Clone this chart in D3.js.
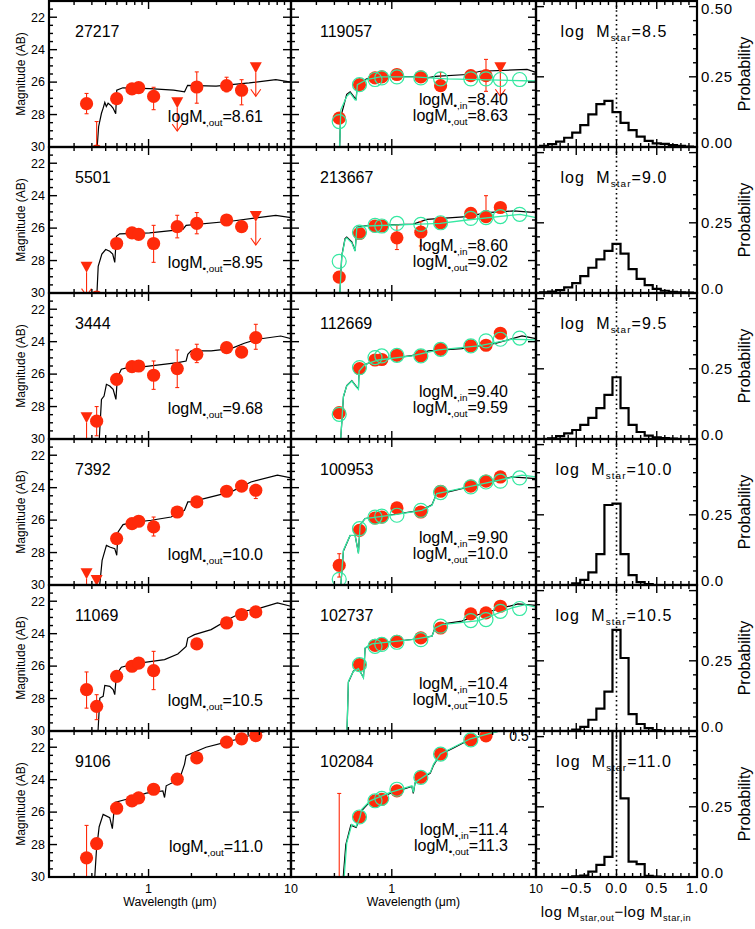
<!DOCTYPE html>
<html><head><meta charset="utf-8">
<script src="https://cdn.jsdelivr.net/npm/d3@7"></script>
<style>
body{margin:0;background:#fff}
svg{display:block}
text{font-family:"Liberation Sans",Arial,sans-serif;fill:#000;white-space:pre}
</style>
</head><body>
<svg id="c" width="755" height="929"></svg>
<script>
// ---------------- DATA ----------------
const filterWave = [0.367,0.432,0.597,0.765,0.852,1.085,1.59,2.18,3.53,4.5,5.66,7.7];
const leftIds = ["27217","5501","3444","7392","11069","9106"];
const midIds = ["119057","213667","112669","100953","102737","102084"];
const massOutLeft = ["8.61","8.95","9.68","10.0","10.5","11.0"];
const massInMid = ["8.40","8.60","9.40","9.90","10.4","11.4"];
const massOutMid = ["8.63","9.02","9.59","10.0","10.5","11.3"];
const binMass = ["8.5","9.0","9.5","10.0","10.5","11.0"];

// observed photometry (left column), null = no measurement
const leftMag = [
  [27.33,30.25,27.02,26.42,26.34,26.88,27.27,26.30,26.22,26.50,25.12,null],
  [28.41,30.25,26.95,26.29,26.39,26.95,25.91,25.71,25.50,25.91,25.29,null],
  [28.69,28.90,26.32,25.54,25.50,26.07,25.66,24.78,24.37,24.64,23.75,null],
  [29.30,29.72,27.14,26.22,26.07,26.42,25.50,24.88,24.22,23.90,24.16,null],
  [27.45,28.48,26.63,26.01,25.81,26.28,null,24.63,23.34,22.82,22.66,null],
  [28.82,27.94,25.76,25.31,25.12,24.59,23.97,22.66,21.69,21.48,21.28,null]
];
const leftUpper = [[6,10],[0,10],[0],[0,1],[],[]];
// error bars: [filter index, bright end, faint end]
const leftErr = [
  [[0,26.7,27.95],[1,28.43,31],[2,26.85,27.2],[5,26.32,27.7],[7,25.37,27.3],[8,25.7,26.6],[9,25.85,27.4]],
  [[2,26.8,27.1],[5,25.83,28.11],[6,25.21,26.6],[7,25.04,26.35]],
  [[1,28.0,29.8],[5,25.19,26.94],[6,24.51,26.83],[7,24.16,25.29],[10,22.93,24.47]],
  [[5,25.81,26.98],[6,25.3,25.7],[10,23.8,24.67]],
  [[0,26.36,28.59],[1,27.76,29.3],[5,25.09,27.45]],
  [[0,26.82,31]]
];
// simulated photometry (middle column, red)
const midMag = [
  [null,28.22,26.16,25.74,25.68,25.53,25.68,26.22,25.60,25.60,25.12,null],
  [null,29.02,26.33,25.87,25.87,26.60,26.25,25.67,25.09,25.29,24.73,null],
  [null,28.38,25.66,25.13,25.10,24.84,24.88,24.47,24.26,24.22,23.48,null],
  [null,28.79,26.63,25.87,25.81,25.25,25.50,24.22,23.90,23.60,23.34,null],
  [null,null,25.91,24.72,24.63,24.47,24.26,23.65,22.78,22.72,22.31,null],
  [null,33.0,26.30,25.31,25.21,24.69,23.86,22.42,21.55,21.30,null,null]
];
const midUpper = [[10],[],[],[],[],[]];
const midErr = [
  [[7,25.4,26.4],[9,24.6,26.57]],
  [[5,25.83,27.32],[6,25.6,27.1],[9,24.0,25.46]],
  [],
  [[1,28.07,29.51]],
  [],
  [[1,24.85,33]]
];
// input model photometry (middle column, green open circles)
const midModel = [
  [null,28.43,26.16,25.84,25.74,25.68,25.74,25.80,25.80,25.80,25.84,25.84],
  [null,28.05,26.25,25.83,25.87,25.71,25.77,25.67,25.40,25.35,25.29,25.15],
  [null,28.48,25.60,24.98,24.88,24.84,24.88,24.47,24.26,23.95,23.85,23.78],
  [null,29.65,26.53,25.81,25.75,25.70,25.40,24.30,23.95,23.65,23.60,23.40],
  [null,null,25.91,24.78,24.66,24.53,24.37,23.54,23.19,23.13,22.62,22.45],
  [null,null,26.30,25.30,25.15,24.59,23.86,22.42,21.55,null,null,null]
];
// best-fit spectra, left column [wavelength um, mag]
const leftSpec = [
  [[0.431,30.6],[0.446,28.75],[0.467,27.92],[0.48,27.6],[0.493,27.25],[0.505,27.5],[0.52,27.3],[0.545,27.45],[0.563,27.6],[0.588,27.95],[0.598,26.5],[0.66,26.35],[1.017,26.4],[1.5,26.5],[1.79,26.6],[1.88,26.2],[2.98,26.25],[5.09,26.05],[7.82,25.85],[10,26.0]],
  [[0.431,30.6],[0.443,28.36],[0.47,27.6],[0.50,27.32],[0.534,27.43],[0.56,27.6],[0.579,28.11],[0.595,26.5],[0.627,26.35],[1.017,26.29],[1.74,26.08],[1.835,25.83],[3.89,25.56],[7.82,25.21],[10,25.35]],
  [[0.447,30.6],[0.467,27.56],[0.487,27.35],[0.506,26.63],[0.534,26.73],[0.564,26.94],[0.59,27.56],[0.604,26.22],[0.644,25.7],[0.757,25.54],[0.938,25.54],[1.605,25.29],[1.835,25.19],[1.886,24.78],[1.99,24.57],[2.75,24.57],[3.79,24.43],[4.70,24.1],[5.82,23.85],[8.47,23.65],[10,23.81]],
  [[0.447,30.6],[0.472,28.48],[0.506,27.56],[0.534,27.66],[0.579,27.76],[0.598,28.17],[0.611,26.73],[0.662,26.28],[0.757,26.16],[1.045,26.01],[1.44,25.81],[1.786,25.4],[1.886,24.88],[1.99,24.88],[2.75,24.57],[3.79,24.26],[5.23,23.65],[8.03,23.23],[10,23.4]],
  [[0.438,30.6],[0.455,27.97],[0.48,27.86],[0.493,27.19],[0.534,27.25],[0.564,27.45],[0.579,27.76],[0.595,26.52],[0.644,26.07],[0.757,25.91],[0.938,25.77],[1.295,25.6],[1.605,25.25],[1.835,24.78],[1.886,24.27],[2.10,24.06],[2.75,23.75],[3.79,23.03],[4.70,22.62],[6.14,22.41],[8.03,22.1],[10,22.31]],
  [[0.415,30.6],[0.431,28.31],[0.45,26.9],[0.48,26.14],[0.534,26.34],[0.557,27.02],[0.579,25.41],[0.778,25.1],[0.964,24.83],[1.26,24.69],[1.295,25.1],[1.33,24.38],[1.65,23.97],[1.79,23.04],[1.835,22.52],[2.53,22.0],[3.5,21.69],[4.33,21.48],[6.0,21.1],[10,20.7]]
];
// input spectra, middle column (green)
const midInSpec = [
  [[0.433,30.6],[0.443,27.71],[0.487,26.88],[0.514,26.67],[0.557,27.09],[0.566,27.1],[0.577,26.16],[0.671,25.84],[0.83,25.68],[1.41,25.68],[2.41,25.8],[9.64,25.93],[10,25.93]],
  [[0.433,30.6],[0.45,27.74],[0.474,26.7],[0.487,26.6],[0.528,26.91],[0.557,27.43],[0.572,25.98],[0.671,25.87],[1.41,25.77],[2.17,25.71],[3.32,25.5],[7.78,25.15],[10,25.35]],
  [[0.438,30.6],[0.462,27.35],[0.487,26.73],[0.528,26.43],[0.572,26.83],[0.587,26.94],[0.593,25.81],[0.653,25.4],[0.808,25.13],[1.377,24.88],[2.11,24.51],[4.0,24.26],[6.82,23.85],[10,23.89]],
  [[0.438,30.6],[0.462,27.86],[0.514,26.94],[0.557,26.94],[0.587,28.07],[0.603,26.32],[0.653,25.91],[1.055,25.66],[1.616,25.4],[1.90,25.09],[2.05,24.36],[2.35,24.26],[4.0,23.81],[8.0,23.23],[10,23.34]],
  [[0.487,30.6],[0.50,26.94],[0.542,26.32],[0.587,26.16],[0.636,26.73],[0.653,24.88],[0.727,24.63],[1.377,24.37],[1.90,24.16],[2.0,23.65],[2.23,23.44],[4.0,23.19],[6.82,22.41],[8.43,22.21],[10,22.37]],
  [[0.462,30.6],[0.487,27.89],[0.528,26.76],[0.566,26.9],[0.60,26.34],[0.619,25.83],[0.707,25.31],[0.974,24.79],[1.377,24.38],[1.41,24.79],[1.45,24.17],[1.85,23.55],[1.95,23.04],[2.17,22.42],[2.68,22.0],[3.5,21.48],[5.0,21.1],[10,20.5]]
];
// best-fit spectra, middle column (black)
const midFitSpec = [
  [[0.433,30.6],[0.441,28.2],[0.487,26.75],[0.514,26.6],[0.557,27.0],[0.566,27.05],[0.577,26.1],[0.671,25.8],[0.83,25.66],[1.41,25.66],[1.8,25.72],[2.0,25.65],[3.32,25.53],[4.1,25.33],[8.67,25.22],[10,25.4]],
  [[0.433,30.6],[0.45,27.7],[0.474,26.65],[0.487,26.55],[0.528,26.85],[0.557,27.4],[0.572,25.95],[0.671,25.85],[1.41,25.75],[1.75,25.46],[3.32,25.29],[4.57,25.04],[7.0,24.94],[10,25.04]],
  [[0.438,30.6],[0.462,27.4],[0.487,26.7],[0.528,26.4],[0.572,26.8],[0.587,26.9],[0.593,25.8],[0.653,25.4],[0.808,25.12],[1.377,24.86],[1.8,24.57],[3.06,24.43],[5.22,24.1],[8.0,23.65],[10,23.81]],
  [[0.438,30.6],[0.462,27.9],[0.514,26.95],[0.557,26.95],[0.587,28.0],[0.603,26.3],[0.653,25.9],[1.055,25.64],[1.616,25.38],[1.90,25.05],[2.05,24.35],[2.35,24.3],[3.06,24.06],[6.82,23.34],[10,23.44]],
  [[0.487,30.6],[0.50,27.0],[0.542,26.3],[0.587,26.15],[0.636,26.7],[0.653,24.9],[0.727,24.62],[1.377,24.36],[1.90,24.15],[2.0,23.6],[2.11,23.44],[3.06,23.23],[4.0,22.82],[7.5,22.16],[10,22.25]],
  [[0.455,30.6],[0.48,28.0],[0.52,26.8],[0.566,26.95],[0.60,26.4],[0.619,25.9],[0.707,25.35],[0.974,24.85],[1.377,24.42],[1.41,24.85],[1.45,24.2],[1.85,23.6],[1.95,23.1],[2.17,22.45],[2.68,22.05],[3.5,21.5],[5.0,21.1],[10,20.5]]
];
// histograms of log Mout - log Min
const histCenters = [-0.9,-0.8,-0.7,-0.6,-0.5,-0.4,-0.3,-0.2,-0.1,0.0,0.1,0.2,0.3,0.4,0.5,0.6,0.7,0.8,0.9];
const histProb = [
  [0.004,0.01,0.019,0.033,0.051,0.078,0.116,0.153,0.164,0.124,0.086,0.06,0.037,0.022,0.013,0.011,0.007,0.004,0.001],
  [0.002,0.005,0.01,0.02,0.035,0.06,0.09,0.12,0.15,0.175,0.14,0.085,0.05,0.028,0.015,0.008,0.004,0.002,0.001],
  [0,0.002,0.01,0.02,0.032,0.05,0.075,0.11,0.157,0.22,0.11,0.05,0.025,0.012,0.006,0.003,0.001,0,0],
  [0,0,0,0,0.006,0.018,0.045,0.11,0.285,0.29,0.11,0.035,0.01,0.003,0,0,0,0,0],
  [0,0,0,0,0.005,0.015,0.04,0.08,0.14,0.36,0.26,0.06,0.025,0.01,0.003,0,0,0,0],
  [0,0,0,0,0.002,0.005,0.019,0.043,0.072,0.6,0.28,0.055,0.046,0.004,0.001,0,0,0,0]
];
const magTicks = [22,24,26,28,30];
const waveTickLabels = [1,10];
const diffTickLabels = [-0.5,0.0,0.5,1.0];

// ---------------- DRAWING ----------------
const RED = "#ff2a0a", GREEN = "#35e8a2";
const svg = d3.select("#c");
const defs = svg.append("defs");
const H = 146, T0 = 1;
const colL = [49,291], colM = [291,536], colR = [536,697];
const xL = d3.scaleLog().domain([0.2,10]).range(colL);
const xM = d3.scaleLog().domain([0.2,10]).range(colM);
const xR = d3.scaleLinear().domain([-1,1]).range(colR);

function rich(g, x, y, parts, size, anchor, extra){
  const t = g.append("text").attr("x",x).attr("y",y).attr("font-size",size).attr("text-anchor",anchor||"start");
  if (extra) extra(t);
  let sub = false;
  parts.forEach(p=>{
    const s = t.append("tspan").text(p[0]);
    if (p[1] && !sub){ s.attr("font-size", size*0.62).attr("dy", size*0.28); sub = true; }
    else if (!p[1] && sub){ s.attr("dy", -size*0.28); sub = false; }
  });
  return t;
}

function clip(id, x0, x1, y0, y1){
  defs.append("clipPath").attr("id",id).append("rect")
    .attr("x",x0).attr("y",y0).attr("width",x1-x0).attr("height",y1-y0);
  return "url(#"+id+")";
}

function drawPoints(g, x, y, mags, upper, errs){
  errs.forEach(e=>{
    const cx = x(filterWave[e[0]]);
    g.append("line").attr("x1",cx).attr("x2",cx).attr("y1",y(e[1])).attr("y2",y(e[2]))
      .attr("stroke",RED).attr("stroke-width",1.1);
    g.append("line").attr("x1",cx-2).attr("x2",cx+2).attr("y1",y(e[1])).attr("y2",y(e[1]))
      .attr("stroke",RED).attr("stroke-width",1.1);
    g.append("line").attr("x1",cx-2).attr("x2",cx+2).attr("y1",y(e[2])).attr("y2",y(e[2]))
      .attr("stroke",RED).attr("stroke-width",1.1);
  });
  mags.forEach((m,i)=>{
    if (m===null) return;
    const cx = x(filterWave[i]), cy = y(m);
    if (upper.includes(i)){
      g.append("path").attr("d",`M${cx-6},${cy-5.5}L${cx+6},${cy-5.5}L${cx},${cy+5.5}Z`).attr("fill",RED);
      const tip = y(m+1.75);
      g.append("line").attr("x1",cx).attr("x2",cx).attr("y1",cy+5).attr("y2",tip).attr("stroke",RED).attr("stroke-width",1.1);
      g.append("path").attr("d",`M${cx-5},${tip-7}L${cx},${tip}L${cx+5},${tip-7}`).attr("fill","none").attr("stroke",RED).attr("stroke-width",1.1);
    } else {
      g.append("circle").attr("cx",cx).attr("cy",cy).attr("r",6.6).attr("fill",RED);
    }
  });
}

function frameAndTicksSED(g, x, y, x0, x1, t, b){
  const tk = g.append("g").attr("stroke","#000").attr("stroke-width",1.4);
  const minors = [0.3,0.4,0.5,0.6,0.7,0.8,0.9,2,3,4,5,6,7,8,9];
  minors.forEach(v=>{
    const xx = x(v);
    tk.append("line").attr("x1",xx).attr("x2",xx).attr("y1",b).attr("y2",b-4);
    tk.append("line").attr("x1",xx).attr("x2",xx).attr("y1",t).attr("y2",t+4);
  });
  [1].forEach(v=>{
    const xx = x(v);
    tk.append("line").attr("x1",xx).attr("x2",xx).attr("y1",b).attr("y2",b-8);
    tk.append("line").attr("x1",xx).attr("x2",xx).attr("y1",t).attr("y2",t+8);
  });
  for (let m=21.5; m<30; m+=0.5){
    const major = magTicks.includes(m);
    const len = major ? 8 : 4;
    const yy = y(m);
    tk.append("line").attr("x1",x0).attr("x2",x0+len).attr("y1",yy).attr("y2",yy);
    tk.append("line").attr("x1",x1).attr("x2",x1-len).attr("y1",yy).attr("y2",yy);
  }
  g.append("rect").attr("x",x0).attr("y",t).attr("width",x1-x0).attr("height",b-t)
    .attr("fill","none").attr("stroke","#000").attr("stroke-width",2.2);
}

for (let r=0; r<6; r++){
  const t = T0 + H*r, b = t + H;
  const y = d3.scaleLinear().domain([21,30]).range([t,b]);
  const yP = d3.scaleLinear().domain([0,0.52]).range([b,t]);

  // ---- left panel ----
  const gL = svg.append("g");
  const cL = clip("cl"+r, colL[0], colL[1], t, b);
  const lineL = d3.line().x(d=>xL(d[0])).y(d=>y(d[1]));
  const inL = gL.append("g").attr("clip-path",cL);
  inL.append("path").attr("d",lineL(leftSpec[r])).attr("fill","none").attr("stroke","#000").attr("stroke-width",1.2);
  drawPoints(inL, xL, y, leftMag[r], leftUpper[r], leftErr[r]);
  frameAndTicksSED(gL, xL, y, colL[0], colL[1], t, b);
  gL.append("text").attr("x",75).attr("y",t+36).attr("font-size",16).text(leftIds[r]);
  rich(gL, colL[1]-28, t+121, [["logM",false],["•,out",true],["="+massOutLeft[r],false]], 16, "end");
  magTicks.forEach(m=>{
    gL.append("text").attr("x",45).attr("y",y(m)+4.3).attr("font-size",12.5).attr("text-anchor","end").text(m);
  });
  gL.append("text").attr("transform",`translate(25,${t+H/2}) rotate(-90)`).attr("font-size",12)
    .attr("text-anchor","middle").text("Magnitude (AB)");

  // ---- middle panel ----
  const gM = svg.append("g");
  const cM = clip("cm"+r, colM[0], colM[1], t, b);
  const lineM = d3.line().x(d=>xM(d[0])).y(d=>y(d[1]));
  const inM = gM.append("g").attr("clip-path",cM);
  inM.append("path").attr("d",lineM(midFitSpec[r])).attr("fill","none").attr("stroke","#000").attr("stroke-width",1.2);
  drawPoints(inM, xM, y, midMag[r], midUpper[r], midErr[r]);
  inM.append("path").attr("d",lineM(midInSpec[r])).attr("fill","none").attr("stroke",GREEN).attr("stroke-width",1.3);
  midModel[r].forEach((m,i)=>{
    if (m===null) return;
    inM.append("circle").attr("cx",xM(filterWave[i])).attr("cy",y(m)).attr("r",7)
      .attr("fill","none").attr("stroke",GREEN).attr("stroke-width",1.2);
  });
  frameAndTicksSED(gM, xM, y, colM[0], colM[1], t, b);
  gM.append("text").attr("x",320).attr("y",t+36).attr("font-size",16).text(midIds[r]);
  rich(gM, colM[1]-28, t+104, [["logM",false],["•,in",true],["="+massInMid[r],false]], 16, "end");
  rich(gM, colM[1]-28, t+120, [["logM",false],["•,out",true],["="+massOutMid[r],false]], 16, "end");

  // ---- right panel ----
  const gR = svg.append("g");
  const cR = clip("cr"+r, colR[0], colR[1], t, b);
  const inR = gR.append("g").attr("clip-path",cR);
  const pts = [[-0.95,0]];
  histCenters.forEach((c,i)=>{ pts.push([c-0.05,histProb[r][i]]); pts.push([c+0.05,histProb[r][i]]); });
  pts.push([0.95,0]);
  inR.append("path").attr("d",d3.line().x(d=>xR(d[0])).y(d=>yP(d[1]))(pts))
    .attr("fill","none").attr("stroke","#000").attr("stroke-width",2.2);
  inR.append("line").attr("x1",xR(0)).attr("x2",xR(0)).attr("y1",t).attr("y2",b)
    .attr("stroke","#000").attr("stroke-width",1.6).attr("stroke-dasharray","1.6,3");
  const tkR = gR.append("g").attr("stroke","#000").attr("stroke-width",1.4);
  for (let i=-9;i<=9;i++){
    const v = i/10, major = (i%5===0);
    const len = major ? 8 : 4;
    tkR.append("line").attr("x1",xR(v)).attr("x2",xR(v)).attr("y1",b).attr("y2",b-len);
    tkR.append("line").attr("x1",xR(v)).attr("x2",xR(v)).attr("y1",t).attr("y2",t+len);
  }
  for (let i=1;i<=10;i++){
    const v = i*0.05, major = (i%5===0);
    const len = major ? 8 : 4;
    tkR.append("line").attr("x1",colR[0]).attr("x2",colR[0]+len).attr("y1",yP(v)).attr("y2",yP(v));
    tkR.append("line").attr("x1",colR[1]).attr("x2",colR[1]-len).attr("y1",yP(v)).attr("y2",yP(v));
  }
  gR.append("rect").attr("x",colR[0]).attr("y",t).attr("width",colR[1]-colR[0]).attr("height",H)
    .attr("fill","none").attr("stroke","#000").attr("stroke-width",2.2);
  rich(gR, 614, t+36, [["log  M",false],["star",true],["="+binMass[r],false]], 16, "middle",
       tt=>tt.attr("letter-spacing",1.1));
  const pl = r===0 ? [[0.5,"0.50"],[0.25,"0.25"],[0,"0.00"]] : [[0.25,"0.25"],[0,"0.0"]];
  pl.forEach(p=>{
    const yy = Math.max(yP(p[0])+5.3-(p[0]===0?4:0), 14);
    gR.append("text").attr("x",701).attr("y",yy).attr("font-size",15)
      .attr("letter-spacing",0.6).text(p[1]);
  });
  gR.append("text").attr("transform",`translate(750,${t+H/2}) rotate(-90)`).attr("font-size",16)
    .attr("text-anchor","middle").text("Probability");
}

// bottom axis labels
const bY = T0 + H*6;
waveTickLabels.forEach(v=>{
  svg.append("text").attr("x",xL(v)).attr("y",bY+16).attr("font-size",12.5).attr("text-anchor","middle").text(v);
  svg.append("text").attr("x",xM(v)).attr("y",bY+16).attr("font-size",12.5).attr("text-anchor","middle").text(v);
});
diffTickLabels.forEach(v=>{
  svg.append("text").attr("x",xR(v)).attr("y",bY+16).attr("font-size",14.5).attr("letter-spacing",0.8)
    .attr("text-anchor","middle").text(d3.format(".1f")(v).replace("-","\u2212"));
});
[xL, xM].forEach(x=>{
  svg.append("text").attr("x",(x.range()[0]+x.range()[1])/2).attr("y",bY+29).attr("font-size",12.3)
    .attr("text-anchor","middle").text("Wavelength (\u03bcm)");
});
rich(svg, 616, bY+40, [["log M",false],["star,out",true],["\u2212log M",false],["star,in",true]], 15, "middle",
     tt=>tt.attr("letter-spacing",0.5));
// stray label visible at top of last middle panel
svg.append("text").attr("x",519).attr("y",T0+H*5+10).attr("font-size",14).attr("text-anchor","middle").text("0.5");
</script>
</body></html>
